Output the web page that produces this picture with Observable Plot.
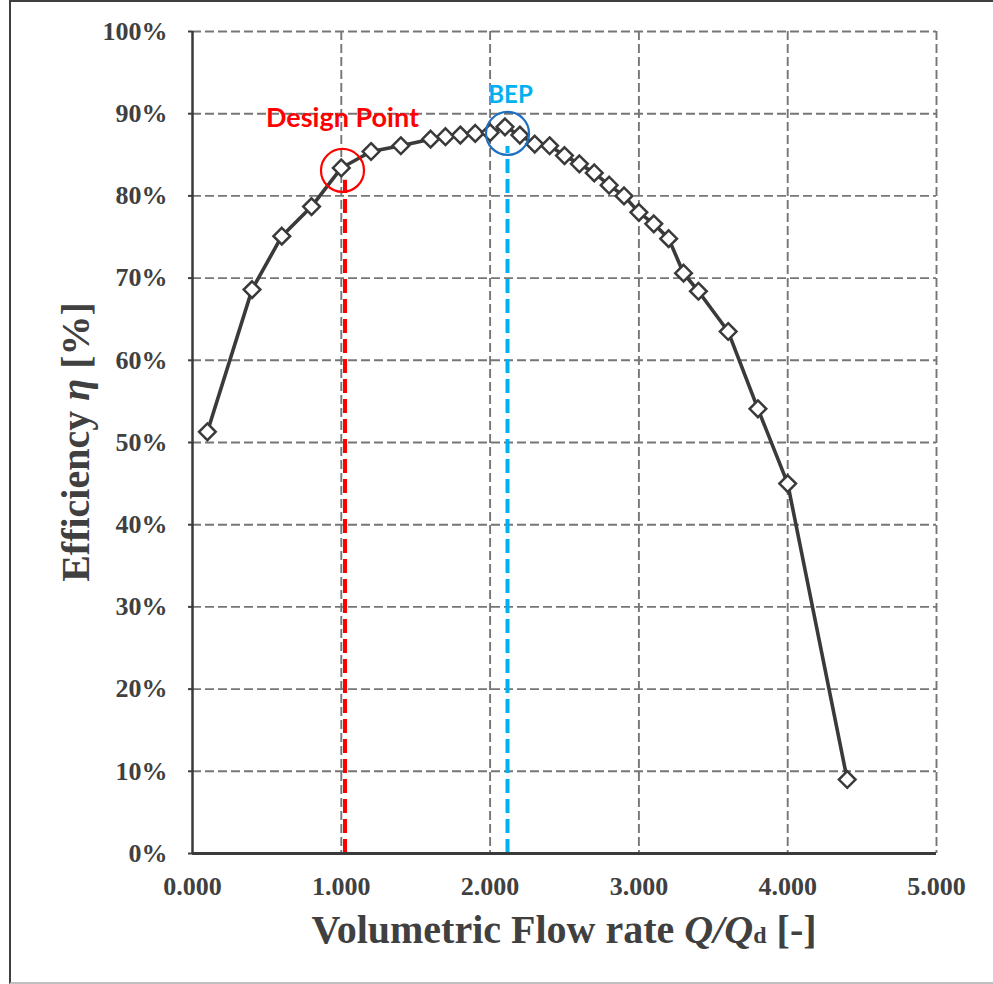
<!DOCTYPE html>
<html><head><meta charset="utf-8">
<script src="https://cdn.jsdelivr.net/npm/d3@7"></script>
<script src="https://cdn.jsdelivr.net/npm/@observablehq/plot@0.6"></script>
<style>
body{margin:0;background:#fff;}
#wrap{position:relative;width:993px;height:984px;overflow:hidden;background:#fff;}
#frame{position:absolute;left:9px;top:0;width:1000px;height:980px;border-left:2px solid #404040;border-top:2px solid #404040;border-bottom:2px solid #c0c0c0;pointer-events:none;}
</style></head><body>
<div id="wrap"><div id="chart"></div><div id="frame"></div></div>
<script>
// ---- data ----
const flowRate = [0.1,0.4,0.6,0.8,1.0,1.2,1.4,1.6,1.7,1.8,1.9,2.0,2.1,2.2,2.3,2.4,2.5,2.6,2.7,2.8,2.9,3.0,3.1,3.2,3.3,3.4,3.6,3.8,4.0,4.4];
const efficiency = [51.3,68.6,75.1,78.7,83.4,85.4,86.1,86.9,87.2,87.4,87.6,87.7,88.4,87.4,86.3,86.1,84.9,83.9,82.8,81.3,80.0,78.0,76.6,74.8,70.6,68.4,63.5,54.1,45.0,9.0];
const xTicks = [0,1,2,3,4,5];
const yTicks = [0,10,20,30,40,50,60,70,80,90,100];
const annotLabel = ["Design Point","BEP"];
const annotLineQ = [1.025, 2.117];
const annotLineTop = [81.9, 86.0];
const annotCircleQ = [1.008, 2.117];
const annotCircleEta = [83.1, 87.6];

// ---- build tables ----
const data = flowRate.map((q,i)=>({q, eta: efficiency[i]}));
const annots = annotLabel.map((label,i)=>({label, lineQ: annotLineQ[i], lineTop: annotLineTop[i], cq: annotCircleQ[i], ceta: annotCircleEta[i]}));
const annotStyle = [
  {line:"#ff0000", circle:"#ff0000", text:"#ff0000", dx:0, dy:-52, size:27},
  {line:"#00b0f0", circle:"#1f6fbf", text:"#00b0f0", dx:3, dy:-38, size:24}
];
const dark = "#3a3a3a";
const grid = {stroke:"#767676", strokeOpacity:1, strokeWidth:1.9, strokeDasharray:"9,4"};

const annotMarks = annots.flatMap((a,i)=>{
  const s = annotStyle[i];
  return [
    Plot.ruleX([a], {x:"lineQ", y1:0, y2:"lineTop", stroke:s.line, strokeWidth:4, strokeDasharray:"14,6"}),
  ];
});
const annotTop = annots.flatMap((a,i)=>{
  const s = annotStyle[i];
  return [
    Plot.dot([a], {x:"cq", y:"ceta", r:21.5, stroke:s.circle, strokeWidth:2.2, fill:"none"}),
    Plot.text([a], {x:"cq", y:"ceta", text:"label", dx:s.dx, dy:s.dy, fill:s.text, fontFamily:"Lato, 'Open Sans', sans-serif", fontWeight:"bold", fontSize:s.size, lineAnchor:"middle"})
  ];
});

const svg = Plot.plot({
  width: 993, height: 984,
  marginLeft: 192, marginRight: 57, marginTop: 31, marginBottom: 131,
  x: {domain:[0,5]},
  y: {domain:[0,100]},
  style: {fontFamily:"'Liberation Serif','Times New Roman',serif", fontSize:"26px", fontWeight:"bold", color:"#404040", background:"transparent", overflow:"visible"},
  marks: [
    Plot.gridX(xTicks.slice(1), grid),
    Plot.gridY(yTicks.slice(1), grid),
    Plot.axisX(xTicks, {tickFormat:d=>d.toFixed(3), tickSize:0, tickPadding:23, label:null, fontSize:26}),
    Plot.axisY(yTicks, {tickFormat:d=>d+"%", tickSize:4, tickPadding:21, label:null, fontSize:26, strokeWidth:2}),
    ...annotMarks,
    Plot.ruleX([0], {stroke:dark, strokeWidth:2.5}),
    Plot.ruleY([0], {stroke:dark, strokeWidth:3}),
    Plot.line(data, {x:"q", y:"eta", stroke:dark, strokeWidth:3.6}),
    Plot.dot(data, {x:"q", y:"eta", symbol:"diamond2", r:7.5, fill:"white", stroke:dark, strokeWidth:2.5}),
    ...annotTop
  ]
});
document.getElementById("chart").appendChild(svg);

// axis titles with mixed styles
const s = d3.select(svg);
const xt = s.append("text")
  .attr("x", (192 + 993 - 57) / 2).attr("y", 943)
  .attr("text-anchor","middle")
  .attr("font-family","'Liberation Serif','Times New Roman',serif")
  .attr("font-weight","bold").attr("font-size",40).attr("fill","#404040");
xt.append("tspan").text("Volumetric Flow rate ");
xt.append("tspan").attr("font-style","italic").text("Q/Q");
xt.append("tspan").attr("font-size",24).text("d");
xt.append("tspan").text(" [-]");

const yt = s.append("text")
  .attr("transform","translate(89,442) rotate(-90)")
  .attr("text-anchor","middle")
  .attr("font-family","'Liberation Serif','Times New Roman',serif")
  .attr("font-weight","bold").attr("font-size",40).attr("fill","#404040");
yt.append("tspan").text("Efficiency ");
yt.append("tspan").attr("font-style","italic").text("η");
yt.append("tspan").text(" [%]");
</script>
</body></html>
